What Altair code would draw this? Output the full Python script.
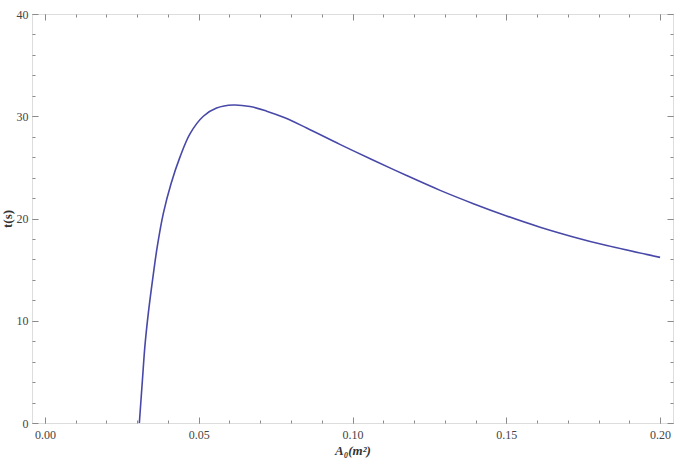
import altair as alt
import pandas as pd

# Curve
a0 = [0.0307, 0.0317, 0.0325, 0.0336, 0.0350, 0.0365, 0.0385, 0.0410, 0.0439,
      0.0472, 0.0515, 0.0558, 0.0612, 0.0667, 0.0721, 0.0780, 0.0851, 0.0959,
      0.1068, 0.1176, 0.1285, 0.1393, 0.1501, 0.1610, 0.1718, 0.1827, 0.2000]
t = [0.0, 4.2, 7.5, 10.7, 14.0, 17.2, 20.5, 23.4, 26.0,
     28.3, 30.0, 30.8, 31.1, 30.95, 30.5, 29.85, 28.85, 27.25,
     25.7, 24.2, 22.75, 21.45, 20.25, 19.15, 18.2, 17.35, 16.2]

x_major = [0.00, 0.05, 0.10, 0.15, 0.20]
x_minor = [round(0.01 * i, 2) for i in range(0, 21)]
y_major = [0, 10, 20, 30, 40]
y_minor = list(range(0, 41, 2))

df = pd.DataFrame({"a0": a0, "t": t})

XDOM = [-0.0042, 0.2042]
YDOM = [0, 40]
FONT = "Liberation Serif, Times New Roman, serif"
TICKC = "#8a8a8a"
LABC = "#444444"

xs = alt.Scale(domain=XDOM, nice=False, zero=False)
ys = alt.Scale(domain=YDOM, nice=False, zero=False)

main = alt.Chart(df).mark_line(color="#4848a8", strokeWidth=1.6, interpolate="catmull-rom").encode(
    x=alt.X("a0:Q", scale=xs, axis=alt.Axis(
        orient="bottom", values=x_major, format=".2f", ticks=False, domain=False, grid=False,
        labelFont=FONT, labelFontSize=12, labelColor=LABC, labelPadding=6,
        title="A₀(m²)", titleFont=FONT, titleFontSize=13, titleFontStyle="italic",
        titleFontWeight="bold", titleColor="#333333", titlePadding=4)),
    y=alt.Y("t:Q", scale=ys, axis=alt.Axis(
        orient="left", values=y_major, format="d", ticks=False, domain=False, grid=False,
        labelFont=FONT, labelFontSize=12, labelColor=LABC, labelPadding=4,
        title="t(s)", titleFont=FONT, titleFontSize=13, titleFontWeight="bold",
        titleColor="#333333", titlePadding=2)),
)


def tick_layer(xorient, yorient, xvals, yvals, size):
    return alt.Chart(df).mark_line(opacity=0).encode(
        x=alt.X("a0:Q", scale=xs, axis=alt.Axis(
            orient=xorient, values=xvals, labels=False, domain=False, grid=False,
            ticks=True, tickSize=size, offset=-size, tickColor=TICKC, tickWidth=1, title=None)),
        y=alt.Y("t:Q", scale=ys, axis=alt.Axis(
            orient=yorient, values=yvals, labels=False, domain=False, grid=False,
            ticks=True, tickSize=size, offset=-size, tickColor=TICKC, tickWidth=1, title=None)),
    )


layers = [
    main,
    tick_layer("bottom", "left", x_major, y_major, 6),
    tick_layer("bottom", "left", x_minor, y_minor, 3),
    tick_layer("top", "right", x_major, y_major, 6),
    tick_layer("top", "right", x_minor, y_minor, 3),
]

chart = alt.layer(*layers).resolve_axis(x="independent", y="independent").properties(
    width=641, height=409,
    autosize=alt.AutoSizeParams(type="none"),
    padding={"left": 32, "top": 14, "right": 11, "bottom": 41},
).configure_view(stroke="#8a8a8a", strokeWidth=1.2).configure(background="white")

chart.save("out.html", embed_options={"renderer": "svg", "actions": False})
